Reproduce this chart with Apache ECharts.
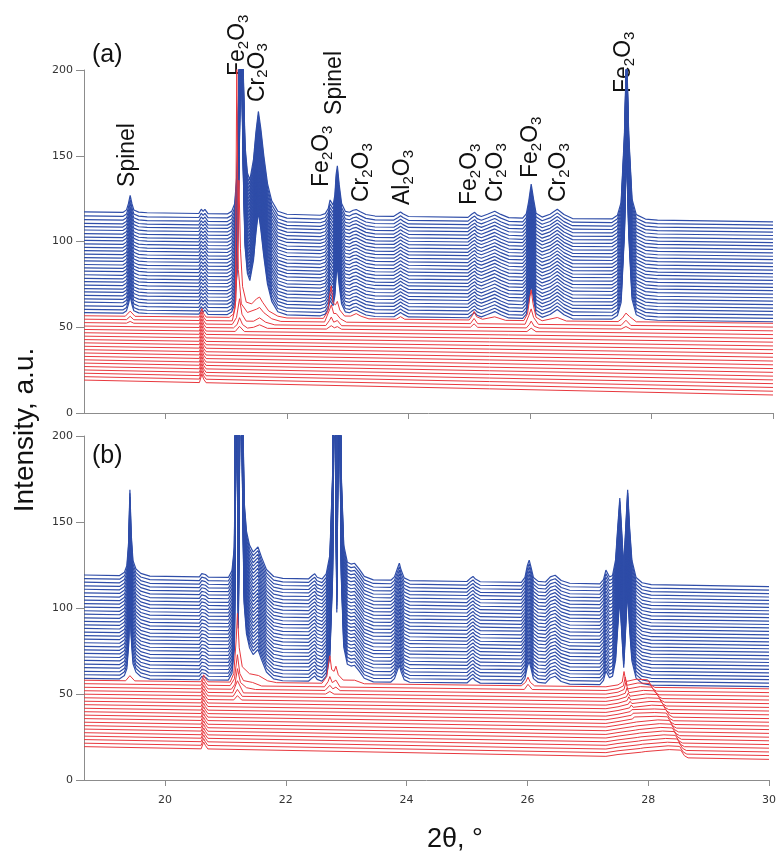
<!DOCTYPE html>
<html><head><meta charset="utf-8">
<script src="https://cdn.jsdelivr.net/npm/echarts@6/dist/echarts.min.js"></script>
<style>html,body{margin:0;padding:0;background:#fff}#c{width:779px;height:855px}</style>
</head><body><div id="c"></div>
<script>
// ---------------- axes ----------------
const X_MIN = 18.66, X_MAX = 30;
const xTickValues = [20, 22, 24, 26, 28, 30];
const Y_MIN = 0, Y_MAX = 200, Y_STEP = 50;

// ---------------- panel (a) baselines (bottom -> top), left / right end ----------------
const blueLeftA  = [58.5,60.4,62.5,64.6,66.5,68.6,70.6,72.5,74.6,76.6,78.5,80.6,82.7,84.6,86.6,88.7,90.6,92.6,94.7,96.6,98.6,100.7,102.6,104.6,106.7,108.7,110.6,112.7,114.9,117.3];
const blueRightA = [53.2,55.2,57.2,59.2,61.2,63.2,65.2,67.2,69.3,71.3,73.3,75.3,77.3,79.3,81.3,83.3,85.4,87.4,89.4,91.4,93.4,95.4,97.4,99.4,101.4,103.5,105.5,107.5,109.5,111.5];
const redLeftA   = [19.2,21.2,23.2,25.1,27.1,29.1,31.0,33.0,35.0,36.9,38.9,40.9,42.8,44.8,46.8,48.7,50.7,52.7,54.7,56.7];
const redRightA  = [10.5,12.7,14.9,17.1,19.3,21.5,23.7,25.9,28.1,30.3,32.5,34.7,36.9,39.1,41.3,43.5,45.7,47.9,50.1,52.3];

// ---------------- panel (b) baselines ----------------
const blueLeftB  = [59.1,61.2,63.2,65.3,67.4,69.5,71.5,73.6,75.7,77.7,79.8,81.9,83.9,86.0,88.1,90.2,92.2,94.3,96.4,98.4,100.5,102.6,104.6,106.7,108.8,110.9,112.9,115.0,117.1,119.2];
const blueRightB = [54.3,56.3,58.3,60.3,62.3,64.3,66.3,68.3,70.3,72.3,74.3,76.3,78.3,80.3,82.3,84.4,86.4,88.4,90.4,92.4,94.4,96.4,98.4,100.4,102.4,104.4,106.4,108.4,110.4,112.4];
const redLeftB   = [19.4,21.4,23.5,25.5,27.5,29.6,31.6,33.6,35.7,37.7,39.7,41.7,43.8,45.8,47.8,49.9,51.9,53.9,56.0,58.0];
const redRightB  = [12.0,14.2,16.3,18.5,20.6,22.8,24.9,27.1,29.3,31.4,33.6,35.7,37.9,40.1,42.2,44.4,46.5,48.7,50.8,53.0];

// ---------------- profiles: [2theta, intensity above trace baseline] ----------------
const blueProfileA = [[18.66,0],[19.3,0],[19.36,1.5],[19.39,5],[19.42,10],[19.45,5],[19.48,1.5],[19.56,0.3],[19.7,0],
 [20.55,0],[20.59,2.5],[20.62,1.2],[20.65,2.5],[20.70,0],
 [21.02,0],[21.09,1.5],[21.14,6],[21.18,25],[21.21,80],[21.245,165],[21.28,85],[21.31,40],[21.35,24],[21.39,20],[21.45,32],[21.49,48],[21.53,60],[21.57,50],[21.62,34],[21.68,18],[21.75,8],[21.85,2],[22.0,0.3],
 [22.55,0],[22.63,1],[22.68,4],[22.71,9],[22.73,10],[22.76,6],[22.79,12],[22.81,24],[22.83,29],[22.86,18],[22.9,7],[22.96,2.5],[23.03,2],[23.09,3.2],[23.14,3.6],[23.2,2.5],[23.3,0.8],[23.45,0],
 [23.76,0],[23.83,1.6],[23.87,2.6],[23.91,1.6],[24.0,0],
 [24.98,0],[25.04,1.8],[25.09,3],[25.13,1.5],[25.2,0.6],[25.3,2],[25.42,3.8],[25.52,2],[25.65,0.2],
 [25.88,0],[25.94,2.5],[25.98,10],[26.02,20],[26.06,11],[26.1,3],[26.2,0.8],[26.33,2.5],[26.45,5.5],[26.56,2.5],[26.7,0.2],
 [27.35,0.3],[27.44,2.5],[27.5,10],[27.555,50],[27.59,100],[27.625,50],[27.68,12],[27.75,3],[27.9,0.5],[28.1,0],[30,0]];

const redProfileA = [[18.66,0],[20.56,0],[20.6,5],[20.63,2],[20.67,0],[30,0]];
const redExtraA = {
 15: [[21.15,0],[21.22,3],[21.3,0]],
 16: [[21.12,0],[21.18,2],[21.22,6],[21.27,2],[21.35,0],[21.45,0.5],[21.55,2],[21.68,0],[22.65,0],[22.73,2],[22.78,0.8],[22.83,1.5],[22.9,0],[25.95,0],[26.02,2],[26.1,0]],
 17: [[19.36,0],[19.42,1],[19.48,0],[21.1,0],[21.17,4],[21.22,15],[21.26,6],[21.33,2],[21.45,2],[21.55,4],[21.65,1.5],[21.8,0],[22.64,0],[22.7,3],[22.73,5],[22.77,2],[22.83,3],[22.9,0],[25.02,0],[25.08,2],[25.14,0],[25.94,0],[25.99,2],[26.02,4],[26.07,1],[26.15,0],[27.5,0],[27.58,1.5],[27.66,0]],
 18: [[19.36,0],[19.42,2],[19.48,0],[21.1,0],[21.15,8],[21.175,150],[21.2,30],[21.25,10],[21.35,5],[21.5,7],[21.55,8],[21.62,5],[21.75,1.5],[21.9,0],[22.62,0],[22.7,7],[22.73,10],[22.77,5],[22.81,5],[22.83,6],[22.88,2],[22.98,0],[25.02,0],[25.08,3],[25.14,0],[25.92,0],[25.98,5],[26.02,9],[26.06,4],[26.14,0],[27.5,0],[27.58,3],[27.66,0]],
 19: [[19.34,0],[19.42,3],[19.5,0],[21.05,0],[21.12,2],[21.16,10],[21.19,45],[21.21,80],[21.235,40],[21.27,18],[21.33,9],[21.42,8],[21.5,11],[21.55,12],[21.6,9],[21.7,4],[21.85,1],[22.0,0],
  [22.6,0],[22.67,4],[22.71,15],[22.73,19],[22.76,9],[22.8,8],[22.83,10],[22.87,5],[22.95,1.5],[23.05,1.5],[23.14,3],[23.22,1.5],[23.35,0],
  [23.8,0],[23.87,1.5],[23.94,0],[25.0,0],[25.05,2.5],[25.08,5],[25.12,2],[25.22,0.5],[25.42,2],[25.6,0],
  [25.9,0],[25.96,4],[26.0,14],[26.02,18],[26.05,10],[26.1,2],[26.2,0],[26.45,2],[26.6,0],[27.45,0],[27.52,2],[27.58,5],[27.64,3],[27.75,0]]
};

const blueProfileB = [[18.66,0],[19.25,0],[19.33,2],[19.37,6],[19.40,20],[19.42,50],[19.44,25],[19.47,9],[19.52,4],[19.6,1.5],[19.75,0],
 [20.57,0],[20.61,2],[20.64,3],[20.67,1.5],[20.72,0],
 [21.05,0],[21.11,4],[21.15,18],[21.185,200],[21.215,30],[21.25,200],[21.285,110],[21.31,45],[21.35,27],[21.40,19],[21.46,15],[21.54,18],[21.6,12],[21.68,5],[21.8,1],[21.95,0],
 [22.38,0],[22.44,2],[22.48,3],[22.52,1],[22.6,0],[22.67,3],[22.73,14],[22.775,60],[22.81,200],[22.845,40],[22.88,200],[22.92,60],[22.96,20],[23.02,10],[23.08,9],[23.14,9.5],[23.22,6],[23.3,2],[23.45,0],
 [23.74,0],[23.8,2],[23.85,7],[23.88,10],[23.91,6],[23.96,1.5],[24.05,0],
 [25.0,0],[25.06,2],[25.1,3],[25.14,1.5],[25.22,0],
 [25.9,0],[25.96,3],[26.0,10],[26.03,13],[26.06,9],[26.1,3],[26.18,0.8],[26.3,0.5],[26.38,3.5],[26.46,4.5],[26.56,1.5],[26.7,0],
 [27.2,0],[27.26,2.5],[27.3,8],[27.33,7],[27.36,4],[27.41,5],[27.46,14],[27.49,30],[27.53,50],[27.595,10],[27.66,55],[27.69,34],[27.73,14],[27.8,4],[27.9,1],[28.05,0],[30,0]];

const redProfileB = [[18.66,0],[20.6,0],[20.64,4],[20.67,2],[20.71,0],[27.3,0],[27.5,1.2],[30,0]];
// per red trace (bottom -> top): position/height of the sharp spike and position of the step edge
const redSpikeXB = [27.92,27.9,27.88,27.87,27.85,27.83,27.82,27.8,27.78,27.77,27.75,27.73,27.72,27.7,27.68,27.67,27.65,27.63,27.62,27.6];
const redSpikeHB = [2,2,2.5,2.5,3,3,3,3.5,3.5,4,4,4,4.5,4.5,5,5,6,7,8,9];
const redEdgeXB  = [28.6,28.58,28.57,28.54,28.51,28.49,28.46,28.44,28.41,28.38,28.36,28.35,28.31,28.28,28.24,28.21,28.17,28.12,28.08,28.05];
const redExtraB = {
 14: [[21.14,0],[21.2,2.5],[21.27,0]],
 15: [[21.13,0],[21.2,4],[21.28,0]],
 16: [[21.12,0],[21.2,7],[21.3,0],[22.66,0],[22.73,1.5],[22.8,0]],
 17: [[21.1,0],[21.16,3],[21.2,12],[21.25,4],[21.35,1],[21.5,0],[22.65,0],[22.73,3],[22.78,1],[22.83,2],[22.9,0]],
 18: [[21.08,0],[21.15,4],[21.2,18],[21.24,7],[21.3,3],[21.45,2],[21.6,0],[22.64,0],[22.7,3],[22.73,6],[22.77,2.5],[22.83,4],[22.9,0],[25.95,0],[26.01,3],[26.08,0]],
 19: [[19.35,0],[19.42,3],[19.5,0],[21.08,0],[21.14,5],[21.18,25],[21.2,40],[21.23,20],[21.28,9],[21.4,5],[21.55,4],[21.7,1],[21.85,0],[22.6,0],[22.68,4],[22.71,12],[22.73,16],[22.76,8],[22.8,7],[22.83,10],[22.87,5],[22.95,2],[23.14,2],[23.3,0],[25.9,0],[25.97,2],[26.01,5],[26.05,2],[26.12,0]]
};
// shape of the step feature, relative to spike / edge positions: [anchor, offset, intensity]
const redStepShapeB = [['s',-0.03,2.8],['s',0,null],['s',0.03,3.2],['e',-0.25,4.6],['e',-0.06,4.4],['e',0,1.2],['e',0.06,0]];

// ---------------- peak labels (panel a) ----------------
const peakLabels = ['Spinel','Fe2O3','Cr2O3','Fe2O3','Spinel','Cr2O3','Al2O3','Fe2O3','Cr2O3','Fe2O3','Cr2O3','Fe2O3'];
const peakLabelX = [19.382,21.19,21.513,22.577,22.782,23.23,23.9,25.007,25.437,26.015,26.47,27.544];
const peakLabelY = [131.8,196.5,181.3,131.8,173.8,123.0,121.3,121.3,123.0,137.0,123.0,186.6];

// ---------------- build ----------------
const BLUE = '#2f4da8', RED = '#e8383e';
function traceData(profile, L, R) {
  return profile.map(([x, h]) => [x, +(L + (R - L) * (x - X_MIN) / (X_MAX - X_MIN) + h).toFixed(2)]);
}
function sorted(p) { return p.slice().sort((a, b) => a[0] - b[0]); }
function lineSeries(data, color, width, gi, z) {
  return { type: 'line', xAxisIndex: gi, yAxisIndex: gi, data, showSymbol: false, symbol: 'none',
    lineStyle: { color, width }, silent: true, animation: false, clip: true, z, emphasis: { disabled: true } };
}
const series = [];
blueLeftA.forEach((L, k) => series.push(lineSeries(traceData(blueProfileA, L, blueRightA[k]), BLUE, 1.2, 0, 2)));
redLeftA.forEach((L, k) => series.push(lineSeries(traceData(sorted(redProfileA.concat(redExtraA[k] || [])), L, redRightA[k]), RED, 1.0, 0, 3)));
blueLeftB.forEach((L, k) => series.push(lineSeries(traceData(blueProfileB, L, blueRightB[k]), BLUE, 1.2, 1, 2)));
redLeftB.forEach((L, k) => {
  const step = redStepShapeB.map(([a, off, h]) => [(a === 's' ? redSpikeXB[k] : redEdgeXB[k]) + off, h === null ? redSpikeHB[k] : h]);
  const prof = sorted(redProfileB.filter(p => p[0] !== 30).concat(redExtraB[k] || [], step, [[30, 0]]));
  series.push(lineSeries(traceData(prof, L, redRightB[k]), RED, 1.0, 1, 3));
});

const AX = '#8c8c8c', TICKFONT = 'DejaVu Sans';
function xAxis(gi, showLabel) {
  return { type: 'value', gridIndex: gi, min: X_MIN, max: X_MAX,
    axisLine: { show: true, onZero: false, lineStyle: { color: AX, width: 1 } },
    axisTick: { show: true, length: 6, customValues: xTickValues, lineStyle: { color: AX } },
    axisLabel: { show: showLabel, customValues: xTickValues, fontSize: 11, color: '#333', margin: 15, fontFamily: TICKFONT },
    splitLine: { show: false } };
}
function yAxis(gi) {
  return { type: 'value', gridIndex: gi, min: Y_MIN, max: Y_MAX, interval: Y_STEP,
    axisLine: { show: true, onZero: false, lineStyle: { color: AX, width: 1 } },
    axisTick: { show: true, length: 8, lineStyle: { color: AX } },
    axisLabel: { fontSize: 11, color: '#333', margin: 11, fontFamily: TICKFONT },
    splitLine: { show: false } };
}

const chart = echarts.init(document.getElementById('c'), null, { renderer: 'canvas' });
chart.setOption({
  animation: false,
  backgroundColor: '#fff',
  grid: [{ left: 84, top: 70, width: 689, height: 343 }, { left: 84, top: 436, width: 689, height: 344 }],
  xAxis: [xAxis(0, false), xAxis(1, true)],
  yAxis: [yAxis(0), yAxis(1)],
  series
});

// ---------------- text ----------------
const FONT = '"Liberation Sans", Arial, sans-serif';
const MAIN = 23, SUB = 15, SUB_DROP = 6;
const mctx = document.createElement('canvas').getContext('2d');
function tw(t, s) { mctx.font = s + 'px ' + FONT; return mctx.measureText(t).width; }
function txt(x, y, text, size, align, valign, extra) {
  return Object.assign({ type: 'text', x, y, silent: true,
    style: { text, font: size + 'px ' + FONT, fill: '#111', align, verticalAlign: valign, textAlign: align, textVerticalAlign: valign } }, extra || {});
}
const graphics = [];
peakLabels.forEach((lab, i) => {
  const [px, py] = chart.convertToPixel({ gridIndex: 0 }, [peakLabelX[i], peakLabelY[i]]);
  const pieces = lab.match(/[A-Za-z]+|\d+/g);
  let off = 0; const children = [];
  pieces.forEach(p => {
    const sub = /\d/.test(p); const s = sub ? SUB : MAIN;
    children.push(txt(off, sub ? SUB_DROP : 0, p, s, 'left', 'middle'));
    off += tw(p, s);
  });
  graphics.push({ type: 'group', x: px, y: py, rotation: Math.PI / 2, children, silent: true });
});
graphics.push(txt(92, 55, '(a)', 25, 'left', 'middle'));
graphics.push(txt(92, 456, '(b)', 25, 'left', 'middle'));
graphics.push(txt(25, 430, 'Intensity, a.u.', 28, 'center', 'middle', { rotation: Math.PI / 2 }));
graphics.push(txt(455, 840, '2θ, °', 27, 'center', 'middle'));
chart.setOption({ graphic: { elements: graphics } });
</script>
</body></html>
